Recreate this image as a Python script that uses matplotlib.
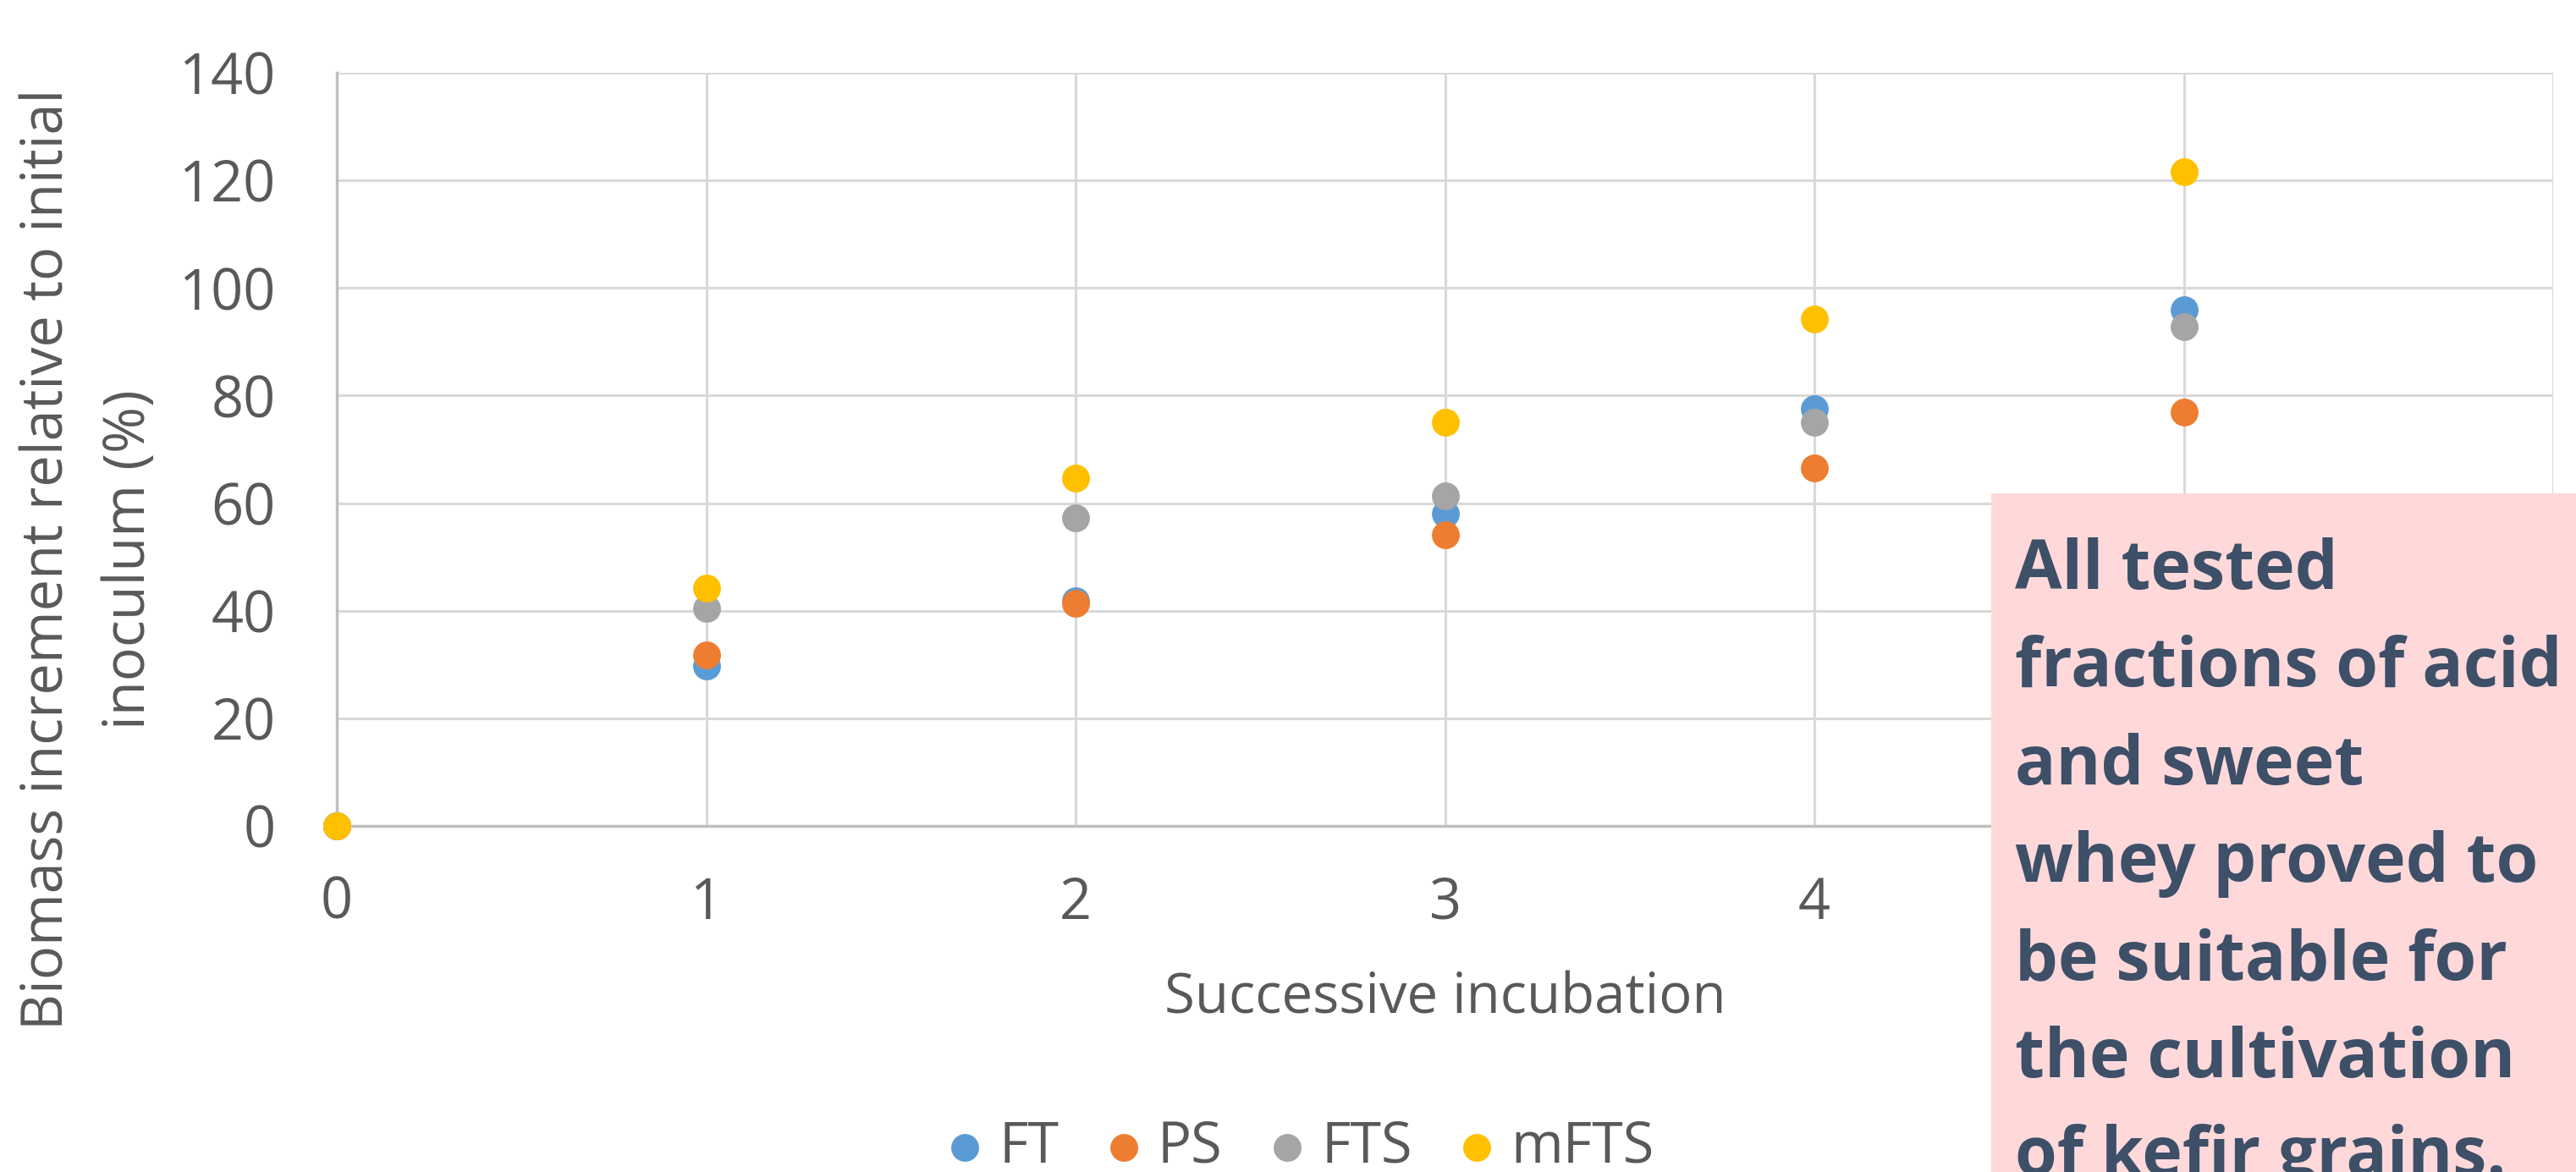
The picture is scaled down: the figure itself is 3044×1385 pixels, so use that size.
import matplotlib
matplotlib.use('Agg')
import matplotlib.pyplot as plt
from matplotlib.patches import Rectangle

plt.rcParams['font.family'] = ['Open Sans', 'DejaVu Sans']

incubation = [0, 1, 2, 3, 4, 5]
ft = [0, 29.7, 41.9, 58.1, 77.5, 95.9]
ps = [0, 31.7, 41.3, 54.1, 66.5, 76.9]
fts = [0, 40.5, 57.2, 61.3, 75.0, 92.8]
mfts = [0, 44.2, 64.6, 75.0, 94.3, 121.6]
series = [('FT', ft, '#5B9BD5'), ('PS', ps, '#ED7D31'),
          ('FTS', fts, '#A5A5A5'), ('mFTS', mfts, '#FFC000')]

note_lines = ['All tested', 'fractions of acid', 'and sweet', 'whey proved to',
              'be suitable for', 'the cultivation', 'of kefir grains.']

W, H = 3044, 1385
fig = plt.figure(figsize=(W / 100, H / 100), dpi=100)
ax = fig.add_axes([398 / W, 1 - 976 / H, (3017 - 398) / W, (976 - 86) / H])

for name, vals, col in series:
    ax.scatter(incubation, vals, s=560, color=col, label=name, zorder=3,
               linewidths=0, clip_on=False)

ax.set_xlim(0, 6)
ax.set_ylim(0, 140)
ax.set_xticks(range(0, 6))
ax.set_yticks(range(0, 141, 20))
ax.grid(True, color='#D9D9D9', linewidth=2.2)
ax.set_axisbelow(True)
for s in ['top', 'right']:
    ax.spines[s].set_visible(False)
for s in ['left', 'bottom']:
    ax.spines[s].set_color('#BFBFBF')
    ax.spines[s].set_linewidth(2.5)
ax.tick_params(length=0, labelsize=48, colors='#595959')
ax.tick_params(axis='y', pad=52)
ax.tick_params(axis='x', pad=42)
ax.axvline(6, color='#D9D9D9', linewidth=2.2, zorder=0)

fig.text(1708 / W, 1 - 1181 / H, 'Successive incubation', ha='center',
         va='center', fontsize=47, color='#595959')
fig.text(57 / W, 1 - 661 / H, 'Biomass increment relative to initial',
         rotation=90, ha='center', va='center', fontsize=48, color='#595959')
fig.text(153 / W, 1 - 661 / H, 'inoculum (%)',
         rotation=90, ha='center', va='center', fontsize=48, color='#595959')

leg = fig.legend(loc='center', bbox_to_anchor=(1534 / W, 1 - 1356 / H), ncol=4,
                 frameon=False, fontsize=48, handlelength=0.8,
                 handletextpad=0.2, columnspacing=0.75, labelcolor='#595959')

box = Rectangle((2353 / W, 0), 1 - 2353 / W, 1 - 583 / H,
                transform=fig.transFigure, facecolor='#FFD9DA',
                edgecolor='none', zorder=10)
fig.patches.append(box)
for i, line in enumerate(note_lines):
    fig.text(2381 / W, 1 - (695.6 + i * 115.5) / H, line, ha='left',
             va='baseline', fontsize=58, fontweight='bold', color='#3E4F68',
             zorder=11)

plt.savefig('out.png', dpi=100)
